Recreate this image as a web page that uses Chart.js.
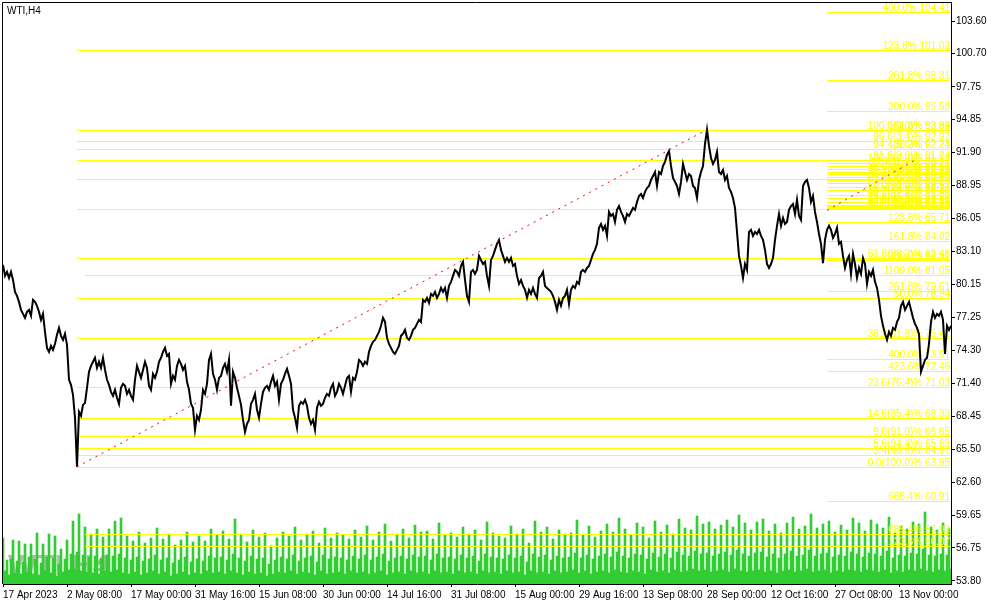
<!DOCTYPE html>
<html>
<head>
<meta charset="utf-8">
<title>WTI,H4</title>
<script src="https://cdn.jsdelivr.net/npm/chart.js@4.4.0/dist/chart.umd.min.js"></script>
<style>
  html, body { margin: 0; padding: 0; background: #fff; overflow: hidden; }
  canvas { display: block; }
</style>
</head>
<body>
<canvas id="wtiChart" width="991" height="605"></canvas>
<script>
// WTI H4 close line with tick volume and fibo levels

const xTickLabels = ["17 Apr 2023", "2 May 08:00", "17 May 00:00", "31 May 16:00", "15 Jun 08:00",
  "30 Jun 00:00", "14 Jul 16:00", "31 Jul 08:00", "15 Aug 00:00", "29 Aug 16:00",
  "13 Sep 08:00", "28 Sep 00:00", "12 Oct 16:00", "27 Oct 08:00", "13 Nov 00:00"];

const yTickValues = [103.60, 100.70, 97.75, 94.85, 91.90, 88.95, 86.05, 83.10, 80.15,
  77.25, 74.30, 71.40, 68.45, 65.50, 62.60, 59.65, 56.75, 53.80];

// closes
const closes = [
  81.91,80.93,81.29,80.75,81.29,80.57,79.51,79.15,78.62,77.91,
  77.55,77.20,77.73,77.91,77.38,78.80,78.62,78.27,77.73,77.02,
  77.55,75.95,74.53,74.18,74.71,74.35,74.89,75.69,76.31,75.60,
  75.24,75.78,74.80,71.69,71.24,70.35,68.31,63.95,68.84,68.49,
  69.46,69.64,70.98,72.40,72.93,73.29,73.65,72.75,73.29,72.75,
  73.65,72.57,71.69,71.24,70.62,70.26,70.80,70.09,69.55,70.98,
  71.33,71.15,70.44,70.80,70.26,69.91,71.69,72.93,72.40,71.86,
  72.57,73.29,72.75,71.15,70.80,72.22,71.86,72.40,73.29,73.65,
  74.18,74.53,73.82,74.00,71.33,72.04,71.69,72.93,73.46,73.11,
  72.57,72.93,71.51,70.80,69.55,69.20,67.24,68.49,68.13,69.02,
  70.80,70.44,71.33,73.46,74.00,72.22,71.69,70.80,71.86,72.04,
  72.75,73.11,72.40,73.46,69.38,72.40,71.86,70.98,70.26,69.46,
  68.13,67.06,67.77,68.13,69.55,69.91,70.44,69.02,68.31,69.55,
  70.62,70.98,71.15,70.80,71.51,72.04,71.15,71.51,69.91,71.33,
  71.69,72.22,72.67,72.04,71.33,69.02,68.31,67.42,69.38,69.73,
  69.55,69.91,69.38,68.31,67.77,68.13,67.24,69.20,69.73,69.38,
  69.55,70.09,70.44,70.26,70.98,71.33,70.26,70.62,71.33,70.98,
  70.44,71.15,71.86,72.04,70.62,71.86,71.69,72.40,73.46,73.29,
  72.93,73.29,73.11,74.18,74.71,75.07,75.24,75.60,75.95,76.49,
  77.20,76.84,75.42,74.89,74.53,74.18,74.00,74.35,74.71,75.60,
  75.78,76.13,75.42,75.24,75.60,76.13,76.31,76.66,77.02,76.84,
  78.80,78.62,78.97,78.53,79.33,79.15,79.51,78.97,79.33,79.86,
  79.51,79.86,78.97,80.04,80.40,80.93,81.46,81.29,80.93,81.82,
  82.18,80.57,79.15,78.62,81.29,81.46,81.11,81.46,82.71,82.35,
  81.99,82.18,80.93,80.04,82.35,82.71,83.24,83.78,84.13,83.24,
  82.71,82.18,82.53,82.18,82.53,81.82,81.99,80.93,80.22,80.57,
  80.04,79.69,78.97,79.69,79.33,79.86,79.33,78.97,80.75,80.93,
  81.29,80.04,79.86,79.69,79.51,79.15,78.62,77.91,78.80,78.27,
  78.97,79.15,79.69,78.44,79.69,80.04,79.86,80.40,80.22,81.29,
  81.46,81.29,81.64,81.82,82.35,82.89,83.24,83.78,85.20,85.55,
  85.02,85.38,84.49,86.62,86.27,86.44,85.73,86.80,87.15,86.62,
  86.27,85.73,86.44,86.27,86.62,86.98,86.80,87.51,88.04,88.22,
  87.86,88.40,88.75,88.93,89.46,89.82,90.17,88.93,90.17,89.99,
  90.71,91.07,91.69,92.04,90.71,89.64,89.29,88.93,88.22,89.29,
  90.89,90.17,89.46,89.99,89.82,88.93,88.75,87.86,89.46,90.17,
  90.71,92.67,93.94,92.49,91.42,90.89,91.24,91.96,90.17,89.99,
  90.35,89.46,89.82,88.75,88.40,87.86,86.98,84.84,82.71,81.82,
  80.75,81.99,81.46,84.84,85.02,84.49,84.84,84.66,85.02,84.49,
  84.13,83.24,81.99,81.64,81.99,82.53,84.13,85.38,86.44,85.38,
  86.09,85.55,85.73,86.80,87.15,87.33,86.44,87.69,86.27,85.91,
  88.93,89.29,89.46,88.75,87.51,88.04,86.62,85.73,84.66,83.78,
  82.07,84.13,85.02,85.38,85.02,84.31,84.66,85.20,83.78,83.96,
  82.71,81.64,82.35,82.71,81.11,82.89,81.99,80.75,81.64,81.11,
  82.53,81.99,80.22,81.29,80.93,81.46,80.40,79.86,78.80,77.38,
  76.49,75.78,75.24,75.95,75.60,76.31,76.13,76.84,77.20,78.27,
  78.62,77.91,78.27,78.62,77.91,77.20,76.66,76.31,75.78,72.40,
  72.93,73.46,73.65,74.89,76.84,77.73,77.20,77.55,77.38,77.73,
  77.02,74.00,76.49,76.13,76.49
];

// tick volume for the same bars
const volumes = [
  4600,1300,2400, 900,2500,4400, 1100,2300,4300, 1000,2200,4000, 1200,2700,4000,
  1000,2500,5100, 900,2100,4000, 1300,2700,5000, 1100,2600,4800, 800,2000,3500,
  1200,2500,4400, 1400,3000,6300, 1500,3200,7000, 1300,2900,5700, 1200,2700,5000,
  1100,2800,5500, 1000,2500,4700, 1300,2900,5500, 1200,2800,6300, 1400,3000,6600,
  1100,2600,4800, 1000,2400,4300, 1200,2700,5200, 900,2300,4100, 1100,2500,4600,
  1300,2900,5600, 1000,2400,4500, 1200,2600,5000, 800,2100,3900, 1000,2400,4400,
  1200,2700,5200, 900,2200,4200, 1100,2500,4800, 1000,2300,4300, 1300,2800,5500,
  1100,2600,4900, 1200,2700,5300, 1000,2400,4500, 1300,3000,6500, 1100,2600,5000,
  900,2300,4200, 1200,2800,5400, 1000,2500,4700, 1100,2600,5100, 800,2000,3800,
  1000,2400,4600, 1200,2700,5200, 1100,2500,4800, 1300,2900,5700, 1000,2300,4400,
  1200,2600,5000, 1100,2800,5300, 900,2200,4100, 1300,2900,5600, 1000,2500,4600,
  1100,2700,5100, 1200,2600,4900, 1000,2400,4500, 1300,2800,5400, 1100,2500,4700,
  1200,2900,5800, 1000,2400,4400, 1100,2700,5200, 1300,3000,6000, 900,2300,4300,
  1100,2600,5000, 1200,2800,5500, 1000,2500,4600, 1300,2900,5900, 1100,2700,5200,
  1200,2800,5300, 1000,2400,4500, 1300,3000,6100, 1100,2600,4900, 1200,2700,5100,
  1000,2500,4700, 1300,2900,5700, 1100,2600,5000, 1200,2800,5400, 1000,2300,4400,
  1300,3000,6200, 1100,2700,5100, 1200,2600,4800, 1000,2500,4600, 1300,2900,5800,
  1100,2600,5000, 1200,2800,5500, 900,2200,4100, 1300,3000,6300, 1100,2700,5200,
  1200,2900,5700, 1000,2400,4500, 1300,2800,5400, 1100,2600,5000, 1200,2700,5100,
  1400,3100,6400, 1100,2600,4900, 1300,2900,5800, 1000,2500,4700, 1200,2800,5300,
  1300,3000,6000, 1100,2700,5200, 1400,3200,6600, 1200,2800,5500, 1100,2600,4900,
  1300,3000,6100, 1200,2900,5700, 1000,2500,4600, 1400,3100,6300, 1200,2700,5200,
  1300,3000,5900, 1100,2600,5000, 1400,3200,6500, 1200,2900,5600, 1300,2800,5400,
  1500,3300,6800, 1300,3000,6000, 1400,3100,6200, 1200,2800,5500, 1300,3000,5900,
  1400,3200,6400, 1200,2900,5700, 1500,3400,6900, 1300,3000,6100, 1200,2800,5400,
  1300,3100,6200, 1400,3200,6500, 1200,2700,5300, 1300,3000,6000, 1100,2600,5100,
  1300,3000,6100, 1400,3300,6700, 1200,2800,5500, 1300,2900,5800, 1500,3400,7000,
  1200,2800,5600, 1300,3000,6000, 1400,3100,6300, 1100,2700,5200, 1300,2900,5900,
  1200,2800,5400, 1400,3200,6600, 1300,3000,6100, 1200,2700,5300, 1400,3100,6400,
  1300,3000,6000, 1200,2800,5600, 1400,3300,6700, 1100,2600,5100, 1300,2900,5800,
  1200,2800,5500, 1400,3100,6200, 1300,3000,6000, 1500,3500,7200, 1300,2900,5700,
  1200,2800,5400, 1400,3000,6100, 1300,2900,5600, 1500
];

// retracement drawn from the May low
const mainFiboStart = 37;
const mainFiboPrices = [101.02, 93.94, 92.92, 92.24, 91.24, 89.56, 86.86, 82.48, 78.94,
  75.41, 71.03, 68.33, 66.65, 65.63, 64.97, 63.95];
const mainFiboTexts = ["123.6% 101.02", "100.0(0.0)% 93.94", "96.6(3.4)% 92.92", "94.4(5.6)% 92.24",
  "91.0(9.0)% 91.24", "85.4(14.6)% 89.56", "76.4(23.6)% 86.86", "61.8(38.2)% 82.48", "50.0% 78.94",
  "38.2(61.8)% 75.41", "23.6(76.4)% 71.03", "14.6(85.4)% 68.33", "9.0(91.0)% 66.65",
  "5.6(94.4)% 65.63", "3.4(96.6)% 64.97", "0.0(100.0)% 63.95"];

const sideFiboStart = 41;
const sideFiboPrices = [81.05, 57.99, 56.87];
const sideFiboTexts = ["1109.0% 81.05", "685.4% 57.99", "123.6% 56.87"];

// expansions on the right
const extFiboStart = 412;
const extFiboPrices = [104.41, 98.31, 95.58, 93.89, 92.21, 90.97, 90.71, 90.44, 90.17, 89.99,
  89.73, 89.46, 89.19, 88.84, 88.57, 88.13, 87.86, 87.51, 87.24, 87.15, 87.06, 86.97,
  85.71, 84.02, 82.31, 79.61, 73.51, 72.46, 60.91];
const extFiboTexts = ["400.0% 104.41", "261.8% 98.31", "200.0% 95.58", "161.8% 93.89", "138.2% 92.21",
  "100.0(0.0)% 91.17", "88.6(11.4)% 90.71", "161.8% 90.44", "78.6(21.4)% 90.17", "138.2% 89.99",
  "70.7(29.3)% 89.73", "123.6% 89.46", "61.8(38.2)% 89.19", "100.0% 88.84", "50.0(50.0)% 88.57",
  "30.2(69.8)% 88.39", "38.2(61.8)% 87.86", "14.6(85.4)% 87.73", "23.6(76.4)% 87.24",
  "61.8% 87.15", "0.0(100.0)% 87.16", "0.0% 86.97",
  "123.6% 85.71", "161.8% 84.02", "200.0% 82.31", "261.8% 79.61", "400.0% 73.51",
  "423.6% 72.46", "685.4% 60.91"];

// fibo trend lines (bar index, price)
const trendMain = [{ x: 37, y: 63.95 }, { x: 352, y: 93.94 }];
const trendExt = [{ x: 412, y: 86.75 }, { x: 456, y: 91.24 }];

const labels = closes.map((_, i) => (i % 32 === 0 ? xTickLabels[i / 32] : ''));

// sparse series so the category axis places the two anchors
function anchorSeries(points) {
  const arr = closes.map(() => null);
  points.forEach((p) => { arr[p.x] = p.y; });
  return arr;
}

const axisFont = { family: '"Liberation Sans", Arial, sans-serif', size: 10 };

const fiboPlugin = {
  id: 'fibo',
  beforeDatasetsDraw(chart) {
    // big grey symbol behind the volumes
    const { ctx, chartArea } = chart;
    ctx.save();
    ctx.font = 'bold 30px "Liberation Sans", Arial, sans-serif';
    ctx.fillStyle = '#b8b8b8';
    ctx.textAlign = 'left';
    ctx.textBaseline = 'alphabetic';
    ctx.fillText('WTI,H4', chartArea.left + 5, chartArea.bottom - 9);
    ctx.restore();
  },
  beforeDatasetDraw(chart, args) {
    if (args.index !== 1) return; // levels go under the price line
    const { ctx, chartArea, scales } = chart;
    const right = chartArea.right - 1;
    ctx.save();
    ctx.beginPath();
    ctx.rect(chartArea.left, chartArea.top, chartArea.width, chartArea.height);
    ctx.clip();
    ctx.strokeStyle = '#ffff00';
    ctx.fillStyle = '#ffff00';
    ctx.lineWidth = 1;
    ctx.font = '10px "Liberation Sans", Arial, sans-serif';
    ctx.textAlign = 'right';
    ctx.textBaseline = 'alphabetic';
    const drawSet = (start, prices, texts) => {
      const x0 = Math.round(scales.x.getPixelForValue(start));
      prices.forEach((p, k) => {
        const y = Math.round(scales.y.getPixelForValue(p)) + 0.5;
        ctx.beginPath();
        ctx.moveTo(x0, y);
        ctx.lineTo(right, y);
        ctx.stroke();
        ctx.fillText(texts[k], right, y - 2);
      });
    };
    drawSet(mainFiboStart, mainFiboPrices, mainFiboTexts);
    drawSet(sideFiboStart, sideFiboPrices, sideFiboTexts);
    drawSet(extFiboStart, extFiboPrices, extFiboTexts);
    ctx.restore();
  },
  afterDraw(chart) {
    const { ctx, chartArea } = chart;
    ctx.save();
    // chart frame (left and top)
    ctx.strokeStyle = '#000';
    ctx.lineWidth = 1;
    ctx.beginPath();
    ctx.moveTo(chartArea.left - 0.5, chartArea.bottom);
    ctx.lineTo(chartArea.left - 0.5, chartArea.top + 0.5);
    ctx.lineTo(chartArea.right, chartArea.top + 0.5);
    ctx.stroke();
    // symbol caption
    ctx.fillStyle = '#000';
    ctx.font = '10px "Liberation Sans", Arial, sans-serif';
    ctx.textAlign = 'left';
    ctx.textBaseline = 'alphabetic';
    ctx.fillText('WTI,H4', chartArea.left + 4, chartArea.top + 12);
    ctx.restore();
  }
};

const ctx = document.getElementById('wtiChart').getContext('2d');

new Chart(ctx, {
  data: {
    labels: labels,
    datasets: [
      {
        type: 'bar',
        data: volumes,
        yAxisID: 'yVol',
        backgroundColor: '#32cd32',
        borderWidth: 0,
        barPercentage: 1,
        categoryPercentage: 1,
        order: 3
      },
      {
        type: 'line',
        data: closes,
        yAxisID: 'y',
        borderColor: '#000000',
        borderWidth: 2,
        pointRadius: 0,
        tension: 0,
        order: 2
      },
      {
        type: 'line',
        data: anchorSeries(trendMain),
        yAxisID: 'y',
        borderColor: '#ff0000',
        borderWidth: 1,
        borderDash: [2, 5],
        pointRadius: 0,
        spanGaps: true,
        order: 1
      },
      {
        type: 'line',
        data: anchorSeries(trendExt),
        yAxisID: 'y',
        borderColor: '#ff0000',
        borderWidth: 1,
        borderDash: [2, 5],
        pointRadius: 0,
        spanGaps: true,
        order: 0
      }
    ]
  },
  options: {
    responsive: false,
    animation: false,
    events: [],
    layout: { padding: { top: 2, left: 3, right: 0, bottom: 0 } },
    plugins: {
      legend: { display: false },
      tooltip: { enabled: false }
    },
    scales: {
      x: {
        type: 'category',
        offset: false,
        grid: { offset: false, drawOnChartArea: false, drawTicks: true, tickLength: 3, color: '#000' },
        border: { display: true, color: '#000' },
        ticks: { autoSkip: false, maxRotation: 0, align: 'start', padding: 2, color: '#000', font: axisFont },
        afterBuildTicks: (axis) => {
          axis.ticks = axis.ticks.filter((t) => t.value % 32 === 0);
        },
        afterFit: (axis) => {
          axis.height = 21;
          axis.paddingLeft = 0;
          axis.paddingRight = 0;
        }
      },
      y: {
        position: 'right',
        min: 53.53,
        max: 105.29,
        grid: { drawOnChartArea: false, drawTicks: true, tickLength: 4, color: '#000' },
        border: { display: true, color: '#000' },
        ticks: {
          padding: 1,
          color: '#000',
          font: axisFont,
          autoSkip: false,
          callback: (value) => Number(value).toFixed(2)
        },
        afterBuildTicks: (axis) => {
          axis.ticks = yTickValues.map((v) => ({ value: v }));
        },
        afterFit: (axis) => {
          axis.width = 40;
          axis.paddingTop = 0;
          axis.paddingBottom = 0;
        }
      },
      yVol: {
        display: false,
        min: 0,
        max: 58200
      }
    }
  },
  plugins: [fiboPlugin]
});
</script>
</body>
</html>
